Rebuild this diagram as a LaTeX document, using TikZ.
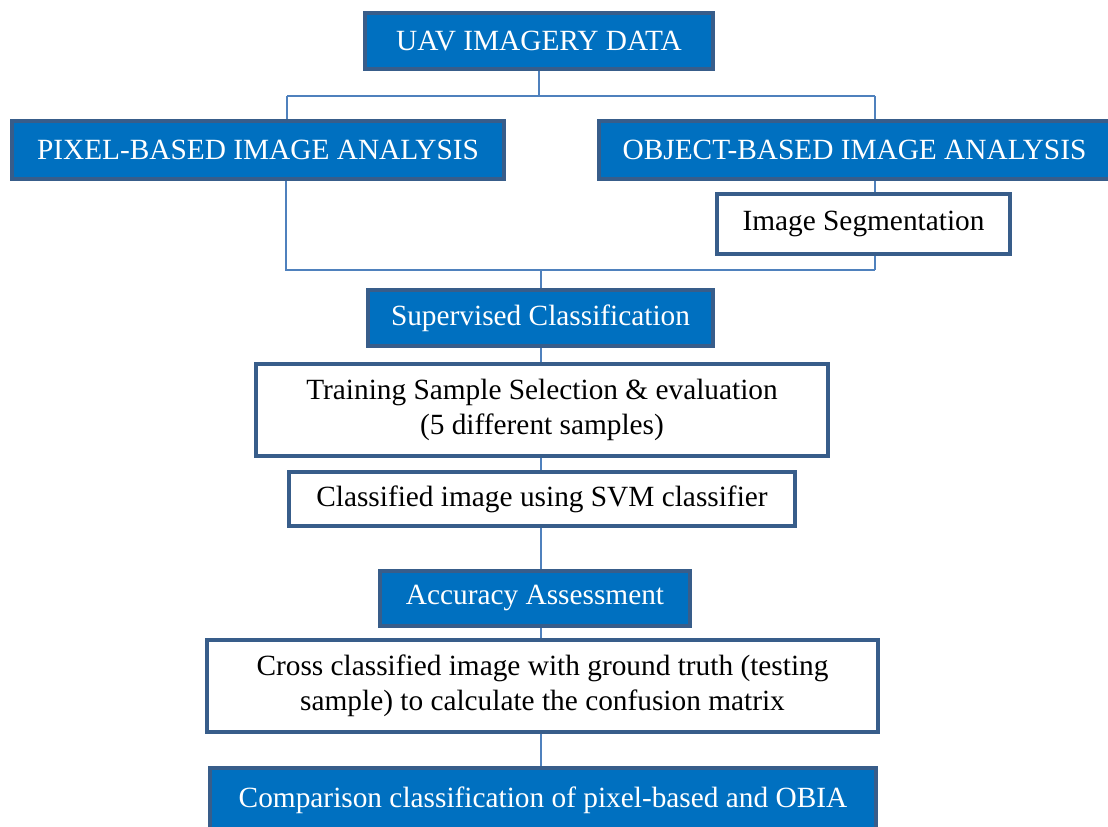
\documentclass[tikz,border=0pt]{standalone}
\usepackage{fontspec}
\setmainfont{Liberation Serif}
\usetikzlibrary{backgrounds}
\definecolor{boxblue}{HTML}{0070C0}
\definecolor{boxedge}{HTML}{385D8A}
\definecolor{linkblue}{HTML}{4F81BD}
\tikzset{
  bluebox/.style={draw=boxedge, line width=3pt, fill=boxblue, text=white, inner sep=0pt, align=center, font=\fontsize{22}{26}\selectfont},
  whitebox/.style={draw=boxedge, line width=3pt, fill=white, text=black, inner sep=0pt, align=center, font=\fontsize{22}{26}\selectfont},
  link/.style={draw=linkblue, line width=1.1pt}
}
\begin{document}
\begin{tikzpicture}[x=0.75pt,y=0.75pt,yscale=-1,xscale=1]
        \useasboundingbox (0,0) rectangle (1108,826);
        \clip (0,0) rectangle (1108,826);

        \node (uav) at (539,41) [bluebox, minimum width=261pt, minimum height=42pt] {UAV IMAGERY DATA};
        \node (pixel) at (258,150) [bluebox, minimum width=369pt, minimum height=43.5pt] {PIXEL-BASED IMAGE ANALYSIS};
        \node (object) at (854.5,150) [bluebox, minimum width=383.25pt, minimum height=43.5pt] {OBJECT-BASED IMAGE ANALYSIS};
        \node (segment) at (863.5,224) [whitebox, minimum width=219.75pt, minimum height=45pt] {Image Segmentation};
        \node (supervised) at (540.5,318) [bluebox, minimum width=258.75pt, minimum height=42pt] {Supervised Classification};
        \node (training) at (542,410) [whitebox, minimum width=429pt, minimum height=69pt] {Training Sample Selection \& evaluation\\(5 different samples)};
        \node (classified) at (542,499) [whitebox, minimum width=379.5pt, minimum height=40.5pt] {Classified image using SVM classifier};
        \node (accuracy) at (535,598) [bluebox, minimum width=232.5pt, minimum height=41.25pt] {Accuracy Assessment};
        \node (cross) at (542.5,686) [whitebox, minimum width=503.25pt, minimum height=69pt] {Cross classified image with ground truth (testing\\sample) to calculate the confusion matrix};
        \node (comparison) at (543,800) [bluebox, minimum width=499.5pt, minimum height=48pt] {Comparison classification of pixel-based and OBIA};

        \coordinate (topL) at (287,96);
        \coordinate (topR) at (875,96);
        \coordinate (botL) at (286,270);
        \coordinate (botR) at (875,270);
        \coordinate (spine) at (541,270);

        \begin{pgfonlayer}{background}
        \draw [link] (uav.south) -- (uav.south |- topL);
        \draw [link] (topL) -- (topR);
        \draw [link] (topL) -- (topL |- pixel.north);
        \draw [link] (topR) -- (topR |- object.north);
        \draw [link] (topR |- object.south) -- (topR |- segment.north);
        \draw [link] (botR |- segment.south) -- (botR);
        \draw [link] (botL |- pixel.south) -- (botL) -- (botR);
        \draw [link] (spine) -- (spine |- supervised.north);
        \draw [link] (spine |- supervised.south) -- (spine |- training.north);
        \draw [link] (spine |- training.south) -- (spine |- classified.north);
        \draw [link] (spine |- classified.south) -- (spine |- accuracy.north);
        \draw [link] (spine |- accuracy.south) -- (spine |- cross.north);
        \draw [link] (spine |- cross.south) -- (spine |- comparison.north);
        \end{pgfonlayer}
    \end{tikzpicture}
\end{document}
